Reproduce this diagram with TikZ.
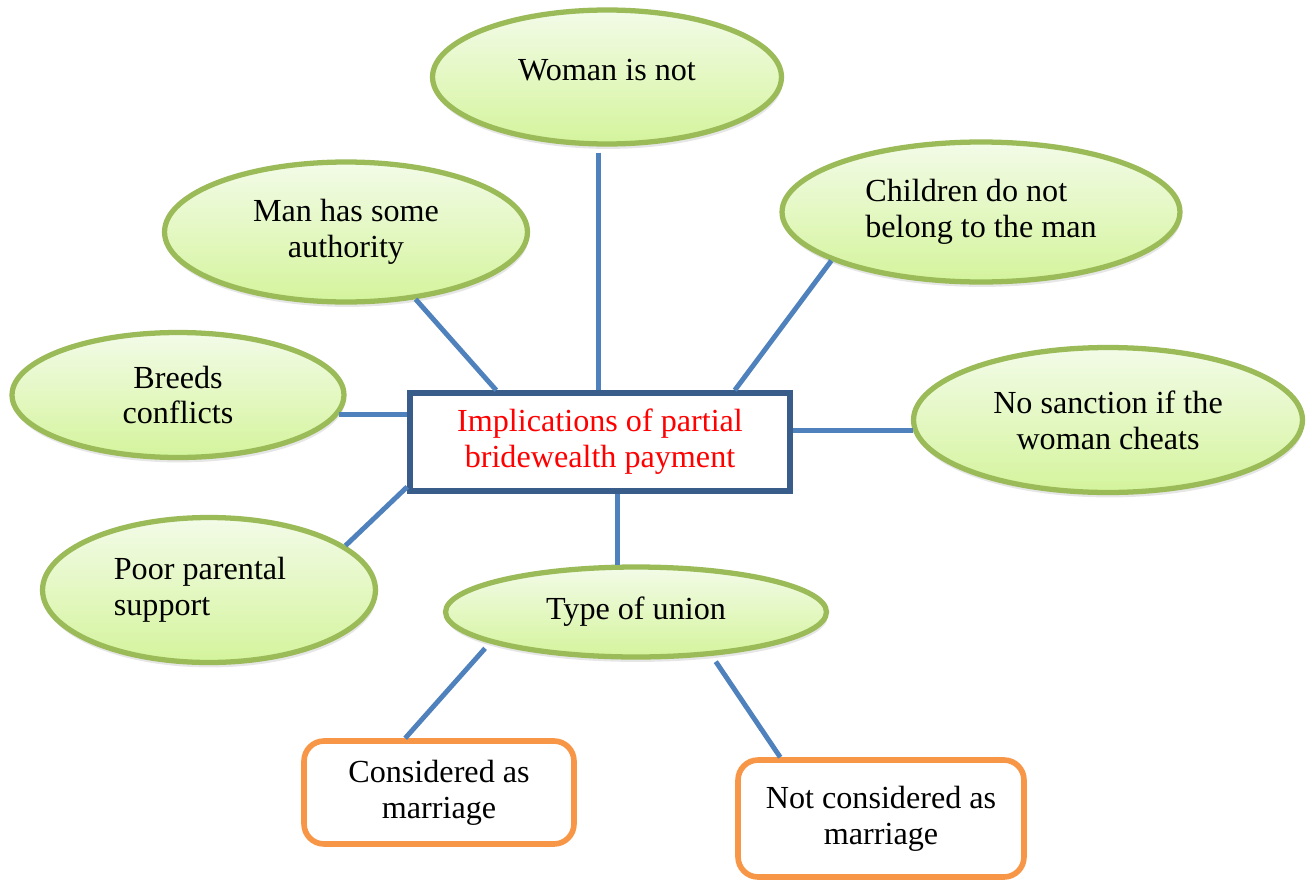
\documentclass[tikz,border=0pt]{standalone}
\usepackage{fontspec}
\setmainfont{Liberation Serif}
\usetikzlibrary{calc,shapes.geometric,shadows}
\definecolor{bubbleline}{HTML}{9BBB59}
\definecolor{bubbletop}{HTML}{F3FBE8}
\definecolor{bubblebottom}{HTML}{D4F49C}
\definecolor{linkblue}{HTML}{4F81BD}
\definecolor{hubline}{HTML}{385D8A}
\definecolor{leafline}{HTML}{F79646}

\begin{document}
\begin{tikzpicture}[x=0.02cm, y=-0.02cm,
		font=\fontsize{18.3}{20.4}\selectfont,
		bubble/.style={ellipse, draw=bubbleline, line width=3pt, top color=bubbletop, bottom color=bubblebottom,
			align=center, inner sep=0pt, drop shadow={opacity=0.2, shadow xshift=0.6pt, shadow yshift=-2.8pt}},
		hub/.style={draw=hubline, line width=3.2pt, fill=white, text=red, align=center},
		leaf/.style={draw=leafline, line width=3.2pt, rounded corners=0.4cm, fill=white, align=center},
		link/.style={draw=linkblue, line width=2.8pt}]
			%%%%% START %%%%%
			
			\useasboundingbox (0, 0) rectangle (1307, 882);
			
			\node[hub, minimum width=7.6cm, minimum height=1.96cm] (hub) at (600, 442) {Implications of partial\\bridewealth payment};
			
			\node[bubble, minimum width=6.98cm, minimum height=2.68cm] (woman) at (607, 77) {\raisebox{8.5pt}{Woman is not}};
			\node[bubble, minimum width=7.26cm, minimum height=2.8cm] (man) at (346, 232) {Man has some\\authority};
			\node[bubble, minimum width=7.96cm, minimum height=2.8cm, align=left] (children) at (981, 212) {Children do not\\belong to the man};
			\node[bubble, minimum width=6.64cm, minimum height=2.5cm] (breeds) at (178, 395) {Breeds\\conflicts};
			\node[bubble, minimum width=7.78cm, minimum height=2.9cm] (sanction) at (1108, 420) {No sanction if the\\woman cheats};
			\node[bubble, minimum width=6.66cm, minimum height=2.9cm, align=left] (poor) at (209, 590) {Poor parental\hspace*{0.36cm}\\support};
			\node[bubble, minimum width=7.62cm, minimum height=1.8cm] (union) at (636, 612) {Type of union};
			
			\node[leaf, minimum width=5.4cm, minimum height=2.06cm] (marriage) at (439, 792.5) {Considered as\\marriage};
			\node[leaf, minimum width=5.72cm, minimum height=2.34cm] (nomarriage) at (881, 818.5) {Not considered as\\marriage};
			
			% spokes
			\draw[link, shorten <=3.4pt] (woman.263) -- (woman.263 |- hub.north);
			\draw[link] (man.-44) -- ([xshift=1.78cm]hub.north west);
			\draw[link] (children.198) -- ([xshift=-1.16cm]hub.north east);
			\draw[link] (breeds.-7) -- (breeds.-7 -| hub.west);
			\draw[link] (sanction.183) -- (sanction.183 -| hub.east);
			\draw[link] (poor.18) -- ([yshift=0.14cm]hub.south west);
			\draw[link] (union.111 |- hub.south) -- (union.111);
			
			\draw[link, shorten <=4pt] (union.192) -- ([xshift=2.08cm]marriage.north west);
			\draw[link, shorten <=4pt] (union.-30) -- ([xshift=0.9cm]nomarriage.north west);
			
			%%%%% END %%%%%
		\end{tikzpicture}
\end{document}
